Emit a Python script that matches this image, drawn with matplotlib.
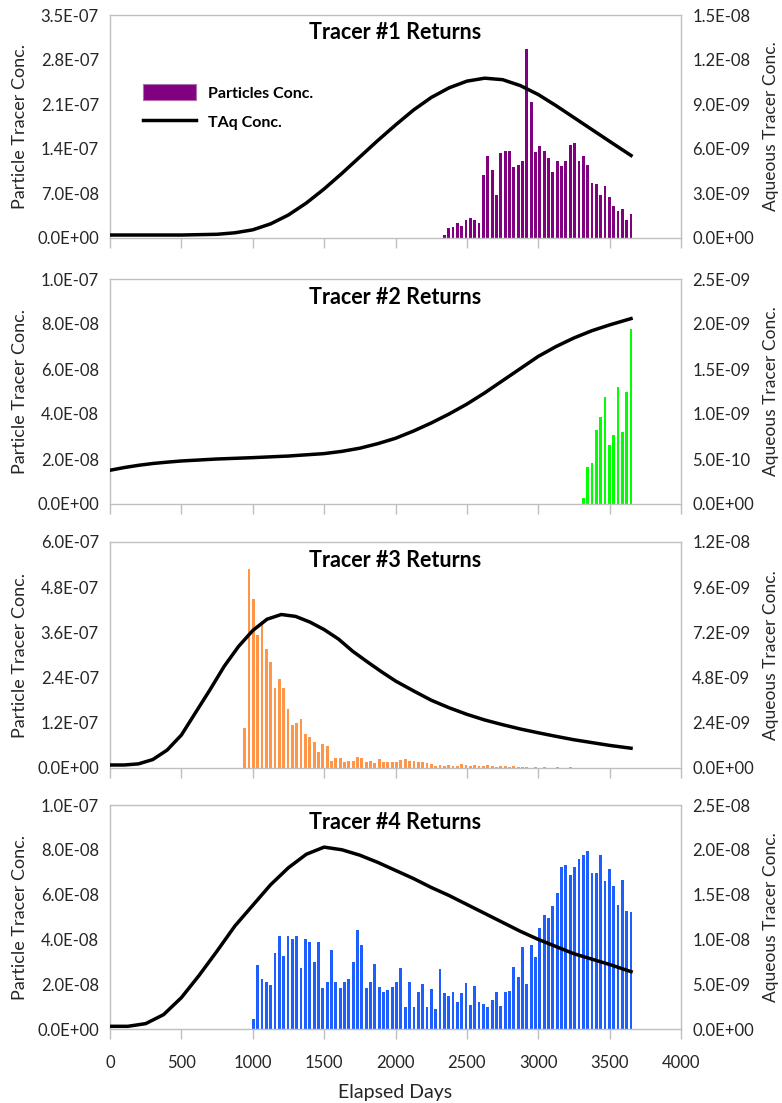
import numpy as np
import matplotlib
matplotlib.use("Agg")
import matplotlib.pyplot as plt
from matplotlib.ticker import FuncFormatter, MultipleLocator
from matplotlib.lines import Line2D
from matplotlib.patches import Patch

plt.rcParams['font.family'] = ['Lato', 'DejaVu Sans']

DAYS_PER_MONTH = 365.0 / 12.0

# ---------------- data ----------------
titles = ["Tracer #1 Returns", "Tracer #2 Returns", "Tracer #3 Returns", "Tracer #4 Returns"]
bar_colors = ["#800080", "#00FF00", "#FF9548", "#1E5EFF"]

# particle concentrations: monthly bars, first month index and values
p1_first_month = 77
p1_vals = [0.04, 0.16, 0.17, 0.24, 0.19, 0.29, 0.32, 0.29, 0.24, 0.99, 1.29, 1.06, 0.68, 1.34,
           1.36, 1.37, 1.11, 1.15, 1.21, 2.97, 2.13, 1.35, 1.45, 1.37, 1.26, 1.03, 1.21, 1.13,
           1.21, 1.46, 1.49, 1.21, 1.28, 1.15, 0.87, 0.85, 0.68, 0.82, 0.64, 0.51, 0.43, 0.46,
           0.29, 0.37]  # x 1e-7

p2_first_month = 109
p2_vals = [0.25, 1.63, 1.84, 3.30, 3.87, 4.75, 2.62, 3.08, 5.21, 3.18, 4.99, 7.79]  # x 1e-8

p3_first_month = 31
p3_vals = [1.05, 5.28, 4.48, 3.53, 3.89, 3.16, 2.81, 2.13, 2.36, 2.13, 1.56, 1.13, 1.19, 1.31,
           0.89, 0.81, 0.70, 0.42, 0.65, 0.59, 0.19, 0.26, 0.27, 0.15, 0.18, 0.19, 0.30, 0.27,
           0.17, 0.18, 0.13, 0.23, 0.15, 0.15, 0.17, 0.17, 0.21, 0.25, 0.19, 0.18, 0.15, 0.17,
           0.12,
           0.10, 0.06, 0.08, 0.05, 0.09, 0.04, 0.06, 0.10, 0.07, 0.05, 0.08, 0.06, 0.04, 0.07,
           0.05, 0.03, 0.05, 0.04, 0.02, 0.04, 0.03, 0.02, 0.03, 0.01, 0.02, 0.0, 0.02, 0.01,
           0.0, 0.02, 0.01, 0.0, 0.015, 0.0, 0.01, 0.0, 0.01, 0.0, 0.0, 0.01, 0.0, 0.0, 0.01,
           0.0, 0.0, 0.0, 0.0]  # x 1e-7

p4_first_month = 33
p4_vals = [0.43, 2.87, 2.23, 2.10, 1.96, 3.38, 4.14, 3.24, 4.14, 4.02, 4.14, 2.74, 4.02, 3.88,
           2.99, 3.88, 1.85, 2.10, 3.51, 2.10, 1.85, 2.10, 2.23, 2.99, 4.40, 3.76, 1.85, 2.10,
           2.92, 1.89, 1.67, 1.74, 1.89, 2.10, 2.74, 0.97, 2.10, 0.97, 1.64, 2.01, 0.97, 1.77,
           0.91, 2.69, 1.59, 1.46, 1.64, 1.21, 1.59, 2.07, 1.07, 1.92, 1.21, 1.12, 1.00, 1.29,
           1.64,
           1.04, 1.64, 1.70, 2.78, 2.34, 3.68, 2.01, 3.75, 3.20, 4.52, 5.10, 4.94, 5.49, 6.06,
           7.25, 7.32, 6.86, 7.23, 7.57, 7.77, 7.95, 6.98, 6.98, 7.77, 6.59, 7.14, 6.40, 5.54,
           6.65, 5.28, 5.21]  # x 1e-8

# aqueous concentration curves
c1_days = [0, 250, 500, 750, 875, 1000, 1125, 1250, 1375, 1500, 1625, 1750, 1875, 2000, 2125,
           2250, 2375, 2500, 2625, 2750, 2875, 3000, 3125, 3250, 3375, 3500, 3650]
c1_vals = [0.02, 0.02, 0.02, 0.025, 0.035, 0.055, 0.095, 0.155, 0.235, 0.33, 0.435, 0.545,
           0.655, 0.76, 0.86, 0.945, 1.01, 1.055, 1.075, 1.065, 1.025, 0.965, 0.89, 0.81, 0.73,
           0.65, 0.555]  # x 1e-8

c2_days = [0, 100, 200, 300, 400, 500, 750, 1000, 1250, 1500, 1625, 1750, 1875, 2000, 2125,
           2250, 2375, 2500, 2625, 2750, 2875, 3000, 3125, 3250, 3375, 3500, 3650]
c2_vals = [0.375, 0.405, 0.43, 0.45, 0.465, 0.478, 0.50, 0.515, 0.533, 0.56, 0.585, 0.62, 0.67,
           0.73, 0.81, 0.90, 1.0, 1.11, 1.235, 1.37, 1.505, 1.64, 1.75, 1.845, 1.925, 1.99,
           2.06]  # x 1e-9

c3_days = [0, 100, 200, 300, 400, 500, 600, 700, 800, 900, 1000, 1100, 1200, 1300, 1400, 1500,
           1600, 1700, 1800, 1900, 2000, 2125, 2250, 2375, 2500, 2625, 2750, 2875, 3000, 3125,
           3250, 3375, 3500, 3650]
c3_vals = [0.16, 0.16, 0.22, 0.45, 0.95, 1.75, 2.95, 4.15, 5.4, 6.45, 7.3, 7.9, 8.15, 8.05,
           7.75, 7.35, 6.85, 6.2, 5.65, 5.12, 4.62, 4.1, 3.6, 3.2, 2.85, 2.55, 2.3, 2.07, 1.87,
           1.68, 1.5, 1.35, 1.2, 1.05]  # x 1e-9

c4_days = [0, 125, 250, 375, 500, 625, 750, 875, 1000, 1125, 1250, 1375, 1500, 1625, 1750,
           1875, 2000, 2125, 2250, 2375, 2500, 2625, 2750, 2875, 3000, 3125, 3250, 3375, 3500,
           3650]
c4_vals = [0.03, 0.03, 0.06, 0.16, 0.35, 0.60, 0.87, 1.15, 1.38, 1.61, 1.80, 1.95, 2.03, 2.00,
           1.94, 1.86, 1.77, 1.68, 1.58, 1.49, 1.39, 1.29, 1.19, 1.09, 1.00, 0.92, 0.84, 0.78,
           0.72, 0.64]  # x 1e-8

left_max = [3.5e-7, 1.0e-7, 6.0e-7, 1.0e-7]
left_step = [7.0e-8, 2.0e-8, 1.2e-7, 2.0e-8]
right_max = [1.5e-8, 2.5e-9, 1.2e-8, 2.5e-8]
right_step = [3.0e-9, 5.0e-10, 2.4e-9, 5.0e-9]

x_ticks = [0, 500, 1000, 1500, 2000, 2500, 3000, 3500, 4000]

bars = [(p1_first_month, p1_vals, 1e-7), (p2_first_month, p2_vals, 1e-8),
        (p3_first_month, p3_vals, 1e-7), (p4_first_month, p4_vals, 1e-8)]
curves = [(c1_days, c1_vals, 1e-8), (c2_days, c2_vals, 1e-9),
          (c3_days, c3_vals, 1e-9), (c4_days, c4_vals, 1e-8)]

# ---------------- layout ----------------
W, H = 782, 1103
fig = plt.figure(figsize=(W / 100, H / 100), dpi=100)
panels_px = [(15, 238), (279, 504), (542, 768), (805, 1029)]
left_px, right_px = 110, 681
gray = "#BFBFBF"
txt = "#262626"
fmt = FuncFormatter(lambda v, p: f"{v:.1E}")

for i in range(4):
    top, bot = panels_px[i]
    ax = fig.add_axes([left_px / W, 1 - bot / H, (right_px - left_px) / W, (bot - top) / H])
    first, vals, scale = bars[i]
    months = first + np.arange(len(vals))
    xs = months * DAYS_PER_MONTH
    ax.bar(xs, np.array(vals) * scale, width=20, color=bar_colors[i], linewidth=0, zorder=2)
    ax.set_xlim(0, 4000)
    ax.set_ylim(0, left_max[i])
    ax.yaxis.set_major_locator(MultipleLocator(left_step[i]))
    ax.yaxis.set_major_formatter(fmt)
    ax.set_xticks(x_ticks)
    for s in ax.spines.values():
        s.set_color(gray)
        s.set_linewidth(1.0)
    ax.tick_params(axis='y', length=0, pad=8, labelsize=12, labelcolor=txt)
    ax.tick_params(axis='x', direction='out', length=7, width=1, color=gray,
                   labelsize=12, labelcolor=txt, pad=12)
    if i < 3:
        ax.tick_params(axis='x', labelbottom=False)
    else:
        ax.set_xlabel("Elapsed Days", fontsize=14, color=txt)
        ax.xaxis.set_label_coords(0.5, -0.245)
    ax.set_ylabel("Particle Tracer Conc.", fontsize=13, color=txt)
    ax.yaxis.set_label_coords(-0.143, 0.5)

    ax2 = ax.twinx()
    cd, cv, cs = curves[i]
    ax2.plot(cd, np.array(cv) * cs, color="black", lw=2.5, solid_joinstyle='round', zorder=3)
    ax2.set_ylim(0, right_max[i])
    ax2.yaxis.set_major_locator(MultipleLocator(right_step[i]))
    ax2.yaxis.set_major_formatter(fmt)
    for s in ax2.spines.values():
        s.set_visible(False)
    ax2.tick_params(axis='y', length=0, pad=8, labelsize=12, labelcolor=txt)
    ax2.set_ylabel("Aqueous Tracer Conc.", fontsize=12.5, color=txt)
    ax2.yaxis.set_label_coords(1.143, 0.5)

    ax2.text(0.5, 0.92, titles[i], transform=ax.transAxes, ha='center', va='center',
             fontsize=15.5, fontweight='bold', color="black")

    if i == 0:
        handles = [Patch(facecolor=bar_colors[0], edgecolor="#B070B0", linewidth=0.8),
                   Line2D([0], [0], color="black", lw=2.5)]
        ax2.legend(handles, ["Particles Conc.", "TAq Conc."], loc='upper left',
                   bbox_to_anchor=(143 / W, 1 - 84 / H), bbox_transform=fig.transFigure,
                   frameon=False, prop={'weight': 'bold', 'size': 11.5}, handlelength=3.3,
                   handleheight=1.2, labelspacing=0.8, handletextpad=0.8,
                   borderaxespad=0, borderpad=0)

fig.savefig("out.png", dpi=100)
